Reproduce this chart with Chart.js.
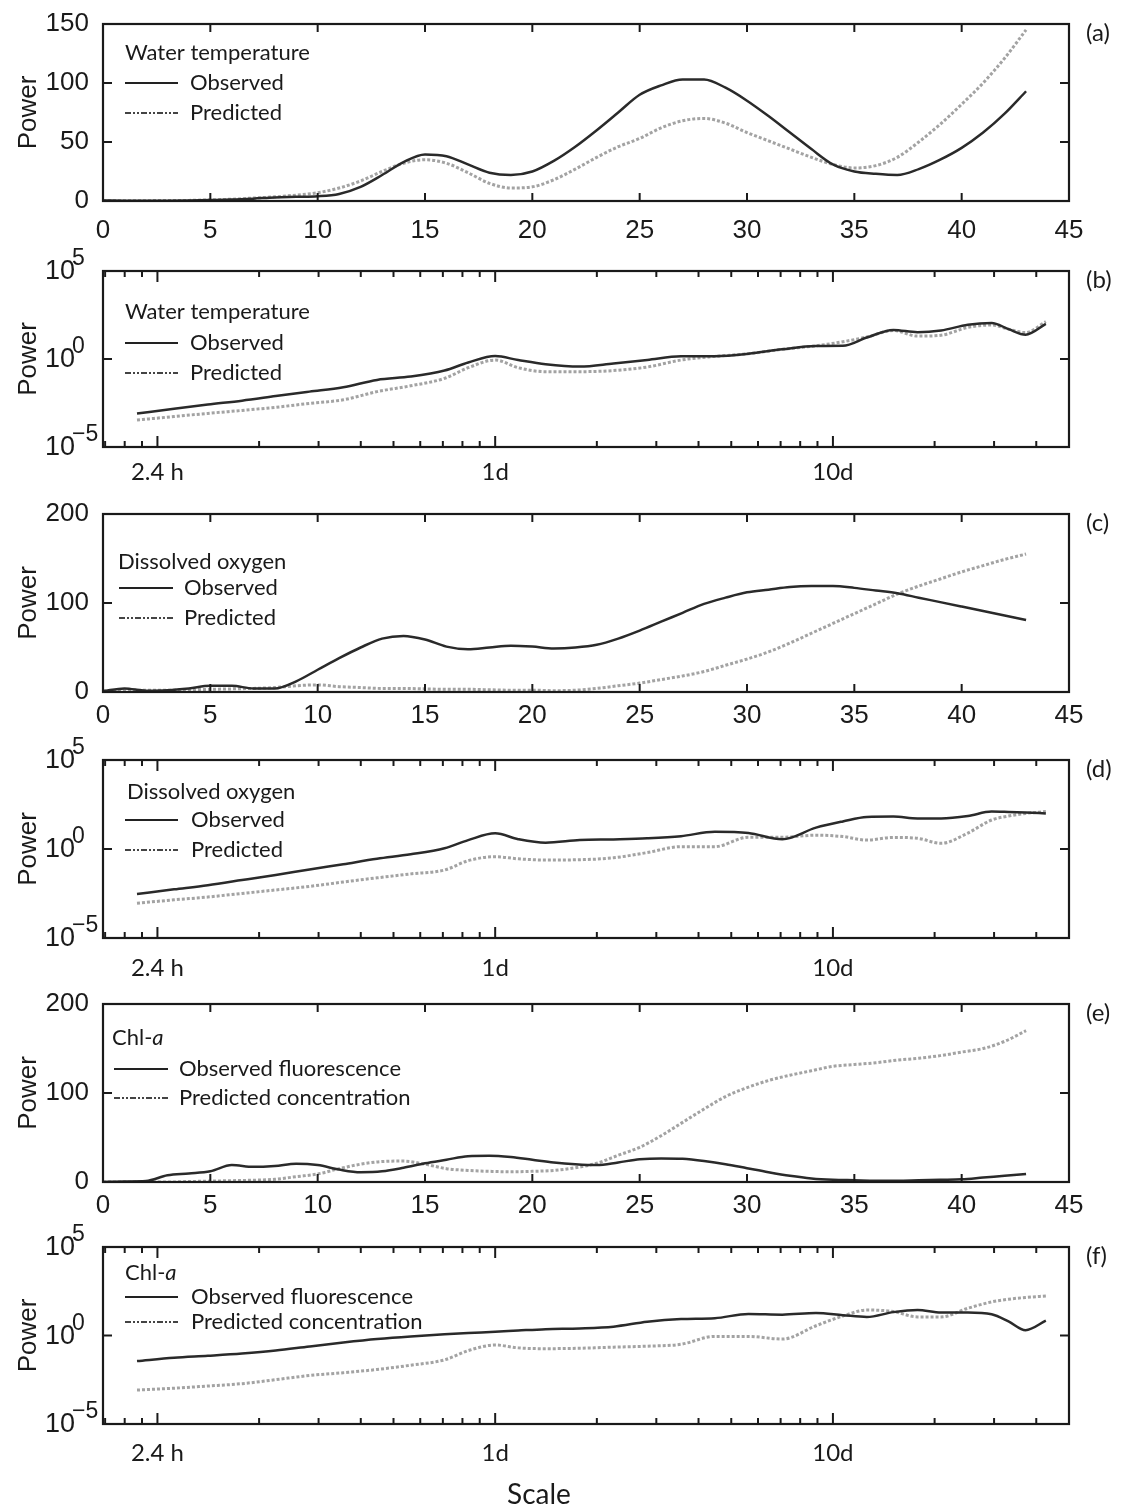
<!DOCTYPE html>
<html>
<head>
<meta charset="utf-8">
<script src="https://cdn.jsdelivr.net/npm/chart.js@4.4.0/dist/chart.umd.min.js"></script>
<style>
  body { margin: 0; background: #fff; }
  #quadro { position: relative; width: 1121px; height: 1508px; }
  #quadro canvas { position: absolute; left: 0; }
</style>
</head>
<body>
<div id="quadro"></div>
<script>
// escala linear (dias), paineis a, c, e
const escalaLinear = [0,1,2,3,4,5,6,7,8,9,10,11,12,13,14,15,16,17,18,19,20,21,22,23,24,25,26,27,28,29,30,31,32,33,34,35,36,37,38,39,40,41,42,43];

const tempObs  = [0.5,0.3,0.2,0.3,0.5,0.8,1.2,2,3,3.5,4,6,12,22,33,39.5,38,31,24,22,25,34,46,60,75,90,98,103,103,96,85,72,58,44,31,25,23,22,27,35,45,58,74,93];
const tempPrev = [0.3,0.3,0.3,0.4,0.5,1,1.5,2.5,3.5,5,7,11,17,25,32,35,32,24,15,11,12,18,27,37,46,53,62,68,70,66,58,51,44,37,31,28,30,37,50,65,82,100,121,145];

const oxiObs  = [1,4,1.5,2,4,7,7,4,4,12,25,38,50,60,63,59,51,48,50,52,51,49,50,53,60,69,79,89,99,106,112,115,118,119,119,117,114,111,106,101,96,91,86,81];
const oxiPrev = [1,1.5,2,2,2.5,3,3.5,4,5,7,8,6,5,4,4,3.5,3,3,2.5,2,2,1.5,2,4,7,10,14,18,23,30,37,45,55,66,77,88,99,110,119,127,135,142,149,155];

const chlObs  = [0,0.5,1,7.5,9.5,12,19,17,18,20.5,19,14,11,12,16,21,25,29,29.5,28,25,22,20,19,22,25.5,26.5,26,23.5,20,15.5,11,7,4,2.5,2,1.5,1.5,2,2.5,3,5,7,9];
const chlPrev = [0,0,0,0,0.5,1,1.5,2,3,6,9,15,20,23,23.5,20,15,13,12,11.5,12,13,16,21,30,39,52,67,82,96,106,114,120,125,130,132,134,137,139,142,146,150,158,170];

// escala logaritmica (dias), paineis b, d, f
const escalaLog = [0.087,0.112,0.141,0.178,0.224,0.282,0.355,0.447,0.562,0.708,0.832,1,1.17,1.41,1.78,2.24,2.82,3.55,4.47,5.62,7.08,8.91,10.7,12.6,15.1,17.8,20.9,25.1,29.5,33.1,37.2,42.7];

const tempObsLog  = [7.9e-4,1.5e-3,2.6e-3,4.3e-3,7.8e-3,1.4e-2,2.5e-2,6.5e-2,0.1,0.22,0.63,1.48,0.87,0.5,0.37,0.56,0.89,1.41,1.45,2.0,3.55,5.5,5.6,16.6,44.7,33.1,41.7,89,112,50,24,98];
const tempPrevLog = [3.4e-4,5.4e-4,8.1e-4,1.2e-3,1.8e-3,3.0e-3,4.8e-3,1.4e-2,3.0e-2,7.9e-2,0.32,0.87,0.32,0.19,0.19,0.22,0.35,0.87,1.41,2.0,3.55,5.62,9.55,17.8,41.7,20,22.4,63,85,50,31.6,132];

const oxiObsLog  = [2.95e-3,5.4e-3,9.3e-3,1.8e-2,3.5e-2,7.1e-2,0.14,0.28,0.5,1.1,3.16,7.6,3.55,2.24,3.16,3.47,3.98,5.25,9.3,7.9,3.55,15.8,35.5,63,66,52,52,71,126,120,112,100];
const oxiPrevLog = [8.9e-4,1.4e-3,2.0e-3,3.2e-3,5.0e-3,7.9e-3,1.4e-2,2.4e-2,4.0e-2,6.6e-2,0.22,0.37,0.28,0.24,0.25,0.32,0.63,1.35,1.35,4.57,4.57,6.0,5.0,3.16,4.47,3.98,2.09,7.9,42.7,71,100,126];

const chlObsLog  = [3.6e-2,5.5e-2,7.1e-2,9.5e-2,0.14,0.24,0.4,0.63,0.89,1.17,1.38,1.62,1.91,2.29,2.51,3.16,6.0,8.5,9.5,16.6,15.1,18.6,14.1,11.2,20.9,27.5,20,20,15.8,6.3,2.0,6.9];
const chlPrevLog = [8.3e-4,1.05e-3,1.4e-3,1.9e-3,3.2e-3,5.5e-3,7.9e-3,1.2e-2,2.1e-2,4.2e-2,0.14,0.29,0.2,0.18,0.19,0.22,0.25,0.32,0.89,0.89,0.63,3.55,12.6,27.5,22.4,11.2,11.2,34.7,79,112,141,170];

// ticks
const ticksLinearX = [0,5,10,15,20,25,30,35,40,45];
const ticksLogX = [0.07,0.08,0.09,0.1,0.2,0.3,0.4,0.5,0.6,0.7,0.8,0.9,1,2,3,4,5,6,7,8,9,10,20,30,40];
const rotulosLogX = { '0.1': '2.4 h', '1': '1d', '10': '10d' };
const ticksLogY = [1e-5, 1, 1e5];
const expoentesLogY = ['\u22125', '0', '5'];

const NUM = '"Liberation Sans", Arial, sans-serif';
const TXT = 'Lato, "Open Sans", sans-serif';
const COR = '#1a1a1a';

const paineis = [
  { letra: '(a)', topo: 24, base: 201, log: false, yMax: 150, yPasso: 50, padX: 6, baixo: 50,
    obs: tempObs, prev: tempPrev, titulo: [['Water temperature', false]], nomes: ['Observed', 'Predicted'],
    leg: { x: 125, dy: [29, 59, 89], linha: [125, 178], xTexto: 190 } },
  { letra: '(b)', topo: 271, base: 447, log: true, padX: 3, baixo: 48,
    obs: tempObsLog, prev: tempPrevLog, titulo: [['Water temperature', false]], nomes: ['Observed', 'Predicted'],
    leg: { x: 125, dy: [41, 72, 102], linha: [125, 178], xTexto: 190 } },
  { letra: '(c)', topo: 514, base: 692, log: false, yMax: 200, yPasso: 100, padX: 0, baixo: 50,
    obs: oxiObs, prev: oxiPrev, titulo: [['Dissolved oxygen', false]], nomes: ['Observed', 'Predicted'],
    leg: { x: 118, dy: [48, 74, 104], linha: [119, 173], xTexto: 184 } },
  { letra: '(d)', topo: 760, base: 938, log: true, padX: 8, baixo: 50,
    obs: oxiObsLog, prev: oxiPrevLog, titulo: [['Dissolved oxygen', false]], nomes: ['Observed', 'Predicted'],
    leg: { x: 127, dy: [32, 60, 90], linha: [125, 178], xTexto: 191 } },
  { letra: '(e)', topo: 1004, base: 1182, log: false, yMax: 200, yPasso: 100, padX: 0, baixo: 50,
    obs: chlObs, prev: chlPrev, titulo: [['Chl-', false], ['a', true]], nomes: ['Observed fluorescence', 'Predicted concentration'],
    leg: { x: 112, dy: [34, 65, 94], linha: [114, 168], xTexto: 179 } },
  { letra: '(f)', topo: 1247, base: 1424, log: true, padX: 7, baixo: 84,
    obs: chlObsLog, prev: chlPrevLog, titulo: [['Chl-', false], ['a', true]], nomes: ['Observed fluorescence', 'Predicted concentration'],
    leg: { x: 125, dy: [26, 50, 75], linha: [125, 178], xTexto: 191 }, eixoX: 'Scale' }
];

function pares(xs, ys) {
  return xs.map((x, i) => ({ x: x, y: ys[i] }));
}

function traco(ctx, x0, y0, x1, y1) {
  ctx.beginPath();
  ctx.moveTo(x0, y0);
  ctx.lineTo(x1, y1);
  ctx.stroke();
}

// moldura, ticks internos, legenda e letra do painel
function fazerMoldura(p) {
  return {
    id: 'moldura',
    afterDraw(chart) {
      const ctx = chart.ctx;
      const a = chart.chartArea;
      const sx = chart.scales.x, sy = chart.scales.y;
      ctx.save();
      ctx.strokeStyle = COR;
      ctx.lineWidth = 2.2;
      ctx.strokeRect(a.left, a.top, a.right - a.left, a.bottom - a.top);

      ctx.lineWidth = 2;
      sx.ticks.forEach(t => {
        const px = sx.getPixelForValue(t.value);
        if (px <= a.left + 2 || px >= a.right - 2) return;
        let len = 8;
        if (p.log) len = rotulosLogX[String(t.value)] ? 11 : 6;
        traco(ctx, px, a.bottom, px, a.bottom - len);
        traco(ctx, px, a.top, px, a.top + len);
      });
      sy.ticks.forEach(t => {
        const py = sy.getPixelForValue(t.value);
        if (py <= a.top + 2 || py >= a.bottom - 2) return;
        traco(ctx, a.left, py, a.left + 9, py);
        traco(ctx, a.right, py, a.right - 9, py);
      });

      // rotulos 10^n do eixo log
      if (p.log) {
        ctx.fillStyle = COR;
        ctx.textBaseline = 'middle';
        ticksLogY.forEach((v, i) => {
          const py = sy.getPixelForValue(v);
          ctx.font = '27px ' + NUM;
          ctx.textAlign = 'right';
          ctx.fillText('10', 75, py + 1);
          ctx.font = '23px ' + NUM;
          ctx.textAlign = 'left';
          ctx.fillText(expoentesLogY[i], 72, py - 12);
        });
      }

      // legenda
      const L = p.leg;
      ctx.fillStyle = COR;
      ctx.textAlign = 'left';
      ctx.textBaseline = 'middle';
      let x = L.x;
      p.titulo.forEach(seg => {
        ctx.font = (seg[1] ? 'italic ' : '') + '22px ' + TXT;
        ctx.fillText(seg[0], x, a.top + L.dy[0]);
        x += ctx.measureText(seg[0]).width;
      });
      ctx.font = '22px ' + TXT;
      ctx.fillText(p.nomes[0], L.xTexto, a.top + L.dy[1]);
      ctx.fillText(p.nomes[1], L.xTexto, a.top + L.dy[2]);
      ctx.strokeStyle = '#222';
      ctx.lineWidth = 2;
      traco(ctx, L.linha[0], a.top + L.dy[1], L.linha[1], a.top + L.dy[1]);
      ctx.strokeStyle = '#444';
      ctx.setLineDash([6, 2, 2, 2, 2, 2]);
      traco(ctx, L.linha[0], a.top + L.dy[2], L.linha[1], a.top + L.dy[2]);
      ctx.setLineDash([]);

      ctx.font = '24px ' + TXT;
      ctx.fillText(p.letra, 1086, a.top + 9);

      if (p.eixoX) {
        ctx.font = '28px ' + TXT;
        ctx.textAlign = 'center';
        ctx.fillText(p.eixoX, 539, 1495 - (p.topo - 24));
      }
      ctx.restore();
    }
  };
}

function criarPainel(p) {
  const canvas = document.createElement('canvas');
  canvas.width = 1121;
  canvas.height = p.base - p.topo + 24 + p.baixo;
  canvas.style.top = (p.topo - 24) + 'px';
  document.getElementById('quadro').appendChild(canvas);

  const xs = p.log ? escalaLog : escalaLinear;
  const semGrade = { display: false };
  const semBorda = { display: false };
  const tituloY = { display: true, text: 'Power', color: COR, font: { family: NUM, size: 26 },
                    padding: { top: 13, bottom: 0 } };

  let eixoX, eixoY;
  if (p.log) {
    eixoX = {
      type: 'logarithmic', min: 0.069, max: 50,
      grid: semGrade, border: semBorda,
      afterBuildTicks: s => { s.ticks = ticksLogX.map(v => ({ value: v })); },
      ticks: { autoSkip: false, maxRotation: 0, padding: p.padX, color: COR,
               font: { family: TXT, size: 24 },
               callback: v => rotulosLogX[String(v)] || '' },
      afterFit: s => { s.height = p.baixo; }
    };
    eixoY = {
      type: 'logarithmic', min: 1e-5, max: 1e5,
      grid: semGrade, border: semBorda,
      afterBuildTicks: s => { s.ticks = ticksLogY.map(v => ({ value: v })); },
      ticks: { display: false },
      title: tituloY,
      afterFit: s => { s.width = 103; }
    };
  } else {
    eixoX = {
      type: 'linear', min: 0, max: 45,
      grid: semGrade, border: semBorda,
      afterBuildTicks: s => { s.ticks = ticksLinearX.map(v => ({ value: v })); },
      ticks: { maxRotation: 0, padding: p.padX, color: COR, font: { family: NUM, size: 26 } },
      afterFit: s => { s.height = p.baixo; }
    };
    eixoY = {
      type: 'linear', min: 0, max: p.yMax,
      grid: semGrade, border: semBorda,
      ticks: { stepSize: p.yPasso, padding: 6, color: COR, font: { family: NUM, size: 26 } },
      title: tituloY,
      afterFit: s => { s.width = 103; }
    };
  }

  new Chart(canvas, {
    type: 'line',
    data: {
      datasets: [
        { label: p.nomes[0], data: pares(xs, p.obs), borderColor: '#2a2a2a', borderWidth: 2.5,
          pointRadius: 0, cubicInterpolationMode: 'monotone' },
        { label: p.nomes[1], data: pares(xs, p.prev), borderColor: '#a3a3a3', borderWidth: 3,
          borderDash: [3, 2], pointRadius: 0, cubicInterpolationMode: 'monotone' }
      ]
    },
    options: {
      responsive: false,
      animation: false,
      layout: { padding: { top: 24, right: 52, left: 0, bottom: 0 } },
      plugins: { legend: { display: false }, tooltip: { enabled: false } },
      scales: { x: eixoX, y: eixoY }
    },
    plugins: [fazerMoldura(p)]
  });
}

paineis.forEach(criarPainel);
</script>
</body>
</html>
